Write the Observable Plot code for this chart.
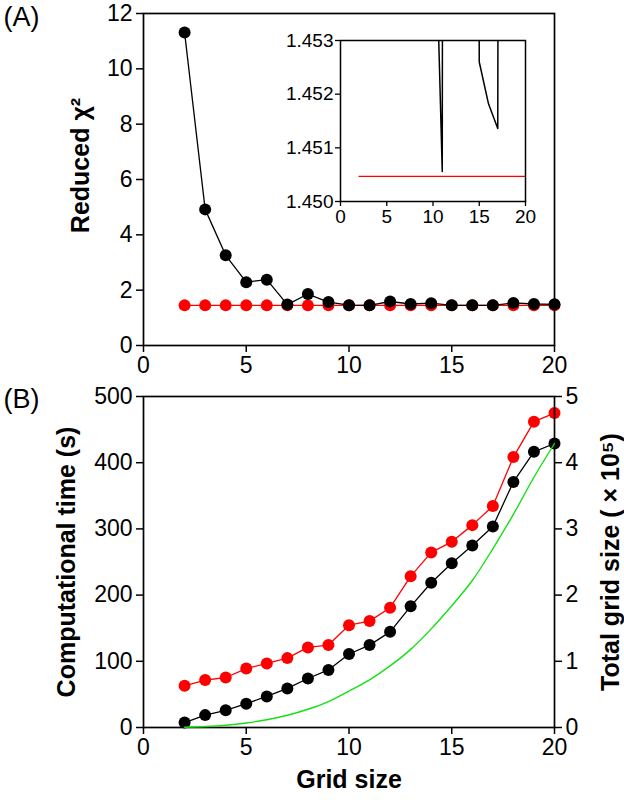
<!DOCTYPE html>
<html><head><meta charset="utf-8">
<script src="https://cdn.jsdelivr.net/npm/d3@7"></script>
<script src="https://cdn.jsdelivr.net/npm/@observablehq/plot@0.6"></script>
<style>
body{margin:0;background:#fff;}
#wrap{position:relative;width:624px;height:800px;}
#wrap > div{position:absolute;}
svg{overflow:visible;}
</style></head><body><div id="wrap">
<div id="panelA" style="left:0;top:0"></div>
<div id="inset" style="left:270px;top:25px"></div>
<div id="panelB" style="left:0;top:380px"></div>
<div id="panelB2" style="left:0;top:380px"></div>
</div>
<script>
// ---- data ----
const gridSize = [2, 3, 4, 5, 6, 7, 8, 9, 10, 11, 12, 13, 14, 15, 16, 17, 18, 19, 20];
// (A) reduced chi-square
const chiBlack = [11.31, 4.92, 3.26, 2.29, 2.38, 1.48, 1.86, 1.57, 1.457, 1.45056, 1.59, 1.50, 1.53, 1.4526, 1.45182, 1.45136, 1.54, 1.50, 1.49];
const chiRed = [1.45047, 1.45047, 1.45047, 1.45047, 1.45047, 1.45047, 1.45047, 1.45047, 1.45047, 1.45047, 1.45047, 1.45047, 1.45047, 1.45047, 1.45047, 1.45047, 1.45047, 1.45047, 1.45047];
// (B) computational time (s)
const timeBlack = [7.5, 18.7, 26, 36, 47, 59, 74, 87, 111, 124.5, 144.5, 183, 218.6, 248, 275, 303.5, 371, 416.5, 429];
const timeRed = [63, 71.6, 75.5, 89, 96.7, 104.8, 121, 124.5, 154.5, 160.7, 181, 228.3, 264.5, 280.5, 305.7, 334.5, 408.5, 462, 475];
// (B) total grid size (x 10^5)
const totalGrid = [0.004, 0.014, 0.034, 0.068, 0.117, 0.185, 0.276, 0.392, 0.55, 0.72, 0.93, 1.18, 1.49, 1.84, 2.22, 2.7, 3.22, 3.78, 4.29];

const xTicks = [0, 5, 10, 15, 20];
const yTicksA = [0, 2, 4, 6, 8, 10, 12];
const yTicksInset = [1.450, 1.451, 1.452, 1.453];
const yTicksB = [0, 100, 200, 300, 400, 500];
const yTicksB2 = [0, 1, 2, 3, 4, 5];

const rows = gridSize.map((g, i) => ({g, chiB: chiBlack[i], chiR: chiRed[i], tB: timeBlack[i], tR: timeRed[i], tot: totalGrid[i]}));

const font = '"Liberation Sans", Arial, Helvetica, sans-serif';
const RED = "#ff0000", BLACK = "#000000", GREEN = "#14e014";
const style = (fs) => ({fontFamily: font, fontSize: fs, color: "#000", background: "transparent", overflow: "visible"});
const intFmt = d3.format("d");

// ---- Panel A ----
const plotA = Plot.plot({
  width: 624, height: 380, marginLeft: 143, marginRight: 70, marginTop: 13, marginBottom: 35,
  style: style("23px"),
  x: {domain: [0, 20]},
  y: {domain: [0, 12]},
  marks: [
    Plot.lineY(rows, {x: "g", y: "chiR", stroke: RED, strokeWidth: 1.3}),
    Plot.dot(rows, {x: "g", y: "chiR", r: 6, fill: RED}),
    Plot.lineY(rows, {x: "g", y: "chiB", stroke: BLACK, strokeWidth: 1.3}),
    Plot.dot(rows, {x: "g", y: "chiB", r: 6, fill: BLACK}),
    Plot.frame({stroke: BLACK, strokeWidth: 1.7}),
    Plot.axisX({ticks: xTicks, tickSize: 7, tickPadding: 4, tickFormat: intFmt, label: null, strokeWidth: 1.5}),
    Plot.axisY({ticks: yTicksA, tickSize: 7, tickPadding: 4, tickFormat: intFmt, label: null, strokeWidth: 1.5}),
    Plot.text(["Reduced χ²"], {text: d => d, frameAnchor: "left", dx: -63, dy: -14, rotate: -90, textAnchor: "middle", fontSize: 25, fontWeight: "bold"}),
    Plot.text(["(A)"], {text: d => d, frameAnchor: "top-left", dx: -140, dy: -7, textAnchor: "start", lineAnchor: "top", fontSize: 27})
  ]
});
document.getElementById("panelA").append(plotA);

// ---- Inset ----
const plotInset = Plot.plot({
  width: 265, height: 210, marginLeft: 70, marginRight: 10, marginTop: 15, marginBottom: 34,
  style: style("19px"),
  x: {domain: [0, 20]},
  y: {domain: [1.450, 1.453]},
  marks: [
    Plot.lineY(rows, {x: "g", y: "chiR", stroke: RED, strokeWidth: 1.3, clip: true}),
    Plot.lineY(rows, {x: "g", y: "chiB", stroke: BLACK, strokeWidth: 1.5, clip: true}),
    Plot.frame({stroke: BLACK, strokeWidth: 1.5}),
    Plot.axisX({ticks: xTicks, tickSize: 5, tickPadding: 3, tickFormat: intFmt, label: null, strokeWidth: 1.3}),
    Plot.axisY({ticks: yTicksInset, tickSize: 5, tickPadding: 2, tickFormat: d3.format(".3f"), label: null, strokeWidth: 1.3})
  ]
});
document.getElementById("inset").append(plotInset);

// ---- Panel B (left axis) ----
const plotB = Plot.plot({
  width: 624, height: 420, marginLeft: 143, marginRight: 70, marginTop: 16, marginBottom: 73,
  style: style("23px"),
  x: {domain: [0, 20]},
  y: {domain: [0, 500]},
  marks: [
    Plot.lineY(rows, {x: "g", y: "tR", stroke: RED, strokeWidth: 1.3}),
    Plot.dot(rows, {x: "g", y: "tR", r: 6, fill: RED}),
    Plot.lineY(rows, {x: "g", y: "tB", stroke: BLACK, strokeWidth: 1.3}),
    Plot.dot(rows, {x: "g", y: "tB", r: 6, fill: BLACK}),
    Plot.frame({stroke: BLACK, strokeWidth: 1.7}),
    Plot.axisX({ticks: xTicks, tickSize: 7, tickPadding: 4, tickFormat: intFmt, label: null, strokeWidth: 1.5}),
    Plot.axisY({ticks: yTicksB, tickSize: 7, tickPadding: 4, tickFormat: intFmt, label: null, strokeWidth: 1.5}),
    Plot.text(["Computational time (s)"], {text: d => d, frameAnchor: "left", dx: -77, rotate: -90, textAnchor: "middle", fontSize: 25, fontWeight: "bold"}),
    Plot.text(["Grid size"], {text: d => d, frameAnchor: "bottom", dy: 60, textAnchor: "middle", fontSize: 25, fontWeight: "bold"}),
    Plot.text(["(B)"], {text: d => d, frameAnchor: "top-left", dx: -140, dy: -8, textAnchor: "start", lineAnchor: "top", fontSize: 27})
  ]
});
document.getElementById("panelB").append(plotB);

// ---- Panel B (right axis overlay: total grid size) ----
const plotB2 = Plot.plot({
  width: 624, height: 420, marginLeft: 143, marginRight: 70, marginTop: 16, marginBottom: 73,
  style: style("23px"),
  x: {domain: [0, 20], axis: null},
  y: {domain: [0, 5], axis: null},
  marks: [
    Plot.lineY(rows, {x: "g", y: "tot", stroke: GREEN, strokeWidth: 1.4, curve: "catmull-rom"}),
    Plot.axisY({anchor: "right", ticks: yTicksB2, tickSize: 7, tickPadding: 4, tickFormat: intFmt, label: null, strokeWidth: 1.5}),
    Plot.text(["Total grid size ( × 10⁵)"], {text: d => d, frameAnchor: "right", dx: 56, rotate: -90, textAnchor: "middle", fontSize: 25, fontWeight: "bold"})
  ]
});
document.getElementById("panelB2").append(plotB2);
</script>
</body></html>
